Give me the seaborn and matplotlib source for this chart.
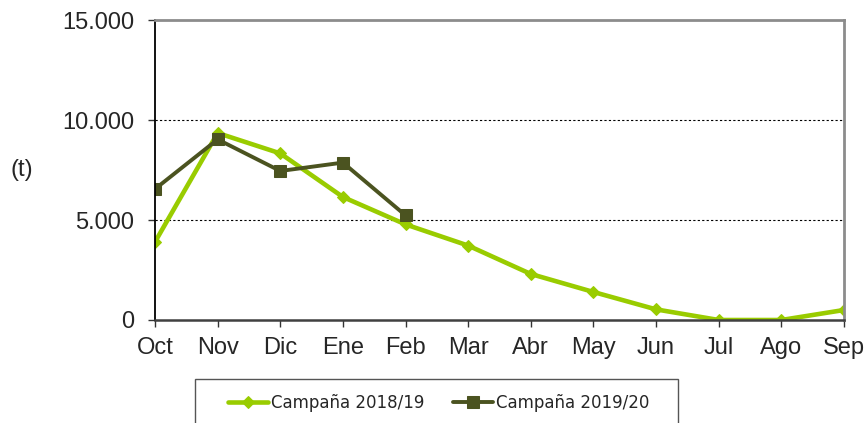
import matplotlib
matplotlib.use('Agg')
import matplotlib.pyplot as plt
from matplotlib.patches import Rectangle
from matplotlib.ticker import FuncFormatter, MultipleLocator
import seaborn as sns

months = ['Oct', 'Nov', 'Dic', 'Ene', 'Feb', 'Mar', 'Abr', 'May', 'Jun', 'Jul', 'Ago', 'Sep']
camp_1819 = [3900, 9350, 8330, 6150, 4780, 3720, 2300, 1400, 530, 0, 0, 500]
camp_1920 = [6550, 9030, 7450, 7870, 5230]
labels = ['Campaña 2018/19', 'Campaña 2019/20']

light_green = '#99cc00'
dark_green = '#4b5320'

sns.set_style('white')
plt.rcParams['font.family'] = ['Liberation Sans', 'DejaVu Sans']

fig = plt.figure(figsize=(8.66, 4.23), dpi=100)
ax = fig.add_axes([155 / 866, 1 - 320 / 423, (844 - 155) / 866, 300 / 423])

sns.lineplot(x=list(range(len(camp_1819))), y=camp_1819, ax=ax, color=light_green,
             linewidth=3.3, marker='D', markersize=6.5, markeredgecolor=light_green,
             label=labels[0])
sns.lineplot(x=list(range(len(camp_1920))), y=camp_1920, ax=ax, color=dark_green,
             linewidth=2.8, marker='s', markersize=8, markeredgecolor=dark_green,
             label=labels[1])

ax.set_xlim(0, 11)
ax.set_ylim(0, 15000)
ax.set_xticks(range(len(months)))
ax.set_xticklabels(months)
ax.yaxis.set_major_locator(MultipleLocator(5000))
ax.yaxis.set_major_formatter(FuncFormatter(lambda v, p: f'{int(v):,}'.replace(',', '.')))

for y in [5000, 10000]:
    ax.axhline(y, color='black', linestyle=(0, (2, 2)), linewidth=0.8, zorder=0)

ax.spines['left'].set_color('black')
ax.spines['left'].set_linewidth(1.3)
ax.spines['bottom'].set_color('#404040')
ax.spines['bottom'].set_linewidth(1.8)
for s in ['top', 'right']:
    ax.spines[s].set_color('#8c8c8c')
    ax.spines[s].set_linewidth(2)

ax.tick_params(axis='both', which='major', direction='out', length=5, width=1,
               color='#333333', labelsize=17, bottom=True, left=True)
ax.tick_params(axis='y', pad=10)
ax.tick_params(axis='x', pad=7)

ax.set_ylabel('(t)', rotation=0, fontsize=17, va='center', ha='center')
ax.yaxis.set_label_coords(-0.193, 0.5)

handles, _ = ax.get_legend_handles_labels()
ax.get_legend().remove()
fig.legend(handles, labels, loc='center', bbox_to_anchor=(439 / 866, 1 - 403 / 423),
           ncol=2, frameon=False, handlelength=2.4, handletextpad=0.2,
           columnspacing=1.7, prop={'family': 'DejaVu Sans', 'size': 12})
fig.patches.append(Rectangle((195 / 866, -0.1), (678 - 195) / 866, 0.1 + (423 - 379) / 423,
                             transform=fig.transFigure, fill=False,
                             edgecolor='#555555', linewidth=1))

fig.savefig('out.png', dpi=100)
